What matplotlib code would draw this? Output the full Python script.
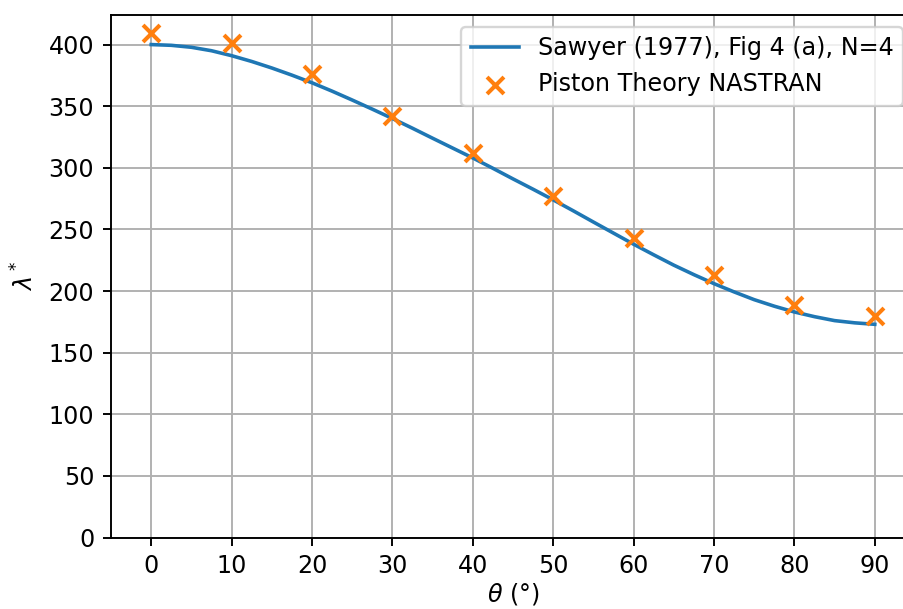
import matplotlib
matplotlib.use('Agg')
import matplotlib.pyplot as plt

# Sawyer (1977) curve at 2.5 deg steps
theta_ref = [0, 2.5, 5, 7.5, 10, 12.5, 15, 17.5, 20, 22.5, 25, 27.5, 30, 32.5, 35, 37.5,
             40, 42.5, 45, 47.5, 50, 52.5, 55, 57.5, 60, 62.5, 65, 67.5, 70, 72.5, 75,
             77.5, 80, 82.5, 85, 87.5, 90]
lambda_ref = [400, 399.4, 397.8, 395, 391, 386.3, 381, 375.2, 369, 362.2, 355, 347.6,
              340, 332.1, 324, 316, 308, 299.6, 291, 282.6, 274, 265.1, 256, 247, 238,
              229.4, 221, 213.3, 206, 199.3, 193, 187.7, 183, 179.2, 176, 174.2, 173]

# piston theory NASTRAN results
theta_nas = [0, 10, 20, 30, 40, 50, 60, 70, 80, 90]
lambda_nas = [409, 401, 376, 342, 312, 277, 243, 213, 189, 180]

DPI = 172
fig = plt.figure(figsize=(903 / DPI, 609 / DPI), dpi=DPI)
ax = fig.add_axes([111 / 903, 1 - 537.5 / 609, (915 - 111) / 903, (537.5 - 15) / 609])

ax.plot(theta_ref, lambda_ref, color='C0', label='Sawyer (1977), Fig 4 (a), N=4')
ax.scatter(theta_nas, lambda_nas, marker='x', color='C1', s=50, linewidths=1.7,
           label='Piston Theory NASTRAN', zorder=3)

ax.set_xlim(-5, 95)
ax.set_ylim(0, 424)
ax.set_xticks(range(0, 91, 10))
ax.set_yticks(range(0, 401, 50))
ax.grid(True)
ax.set_xlabel(r'$\theta$ (°)', labelpad=1)
ax.set_ylabel(r'$\lambda^*$')
ax.legend(loc='upper right')

fig.savefig('out.png', dpi=DPI)
